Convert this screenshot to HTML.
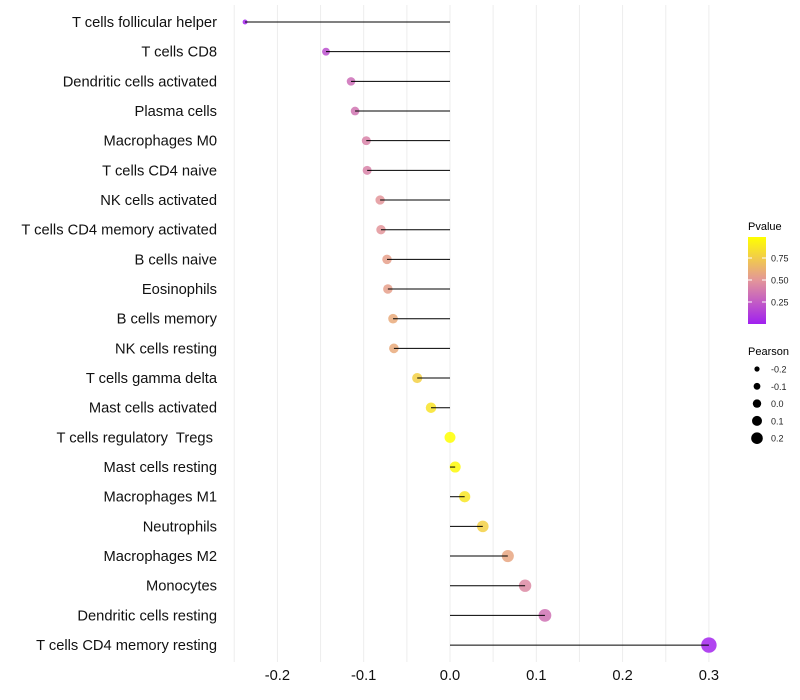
<!DOCTYPE html>
<html><head><meta charset="utf-8"><style>
body{margin:0;background:#fff;font-family:"Liberation Sans",sans-serif}
svg{display:block}
text{white-space:pre}
</style></head><body>
<svg id="chart" width="800" height="700">
<g id="grid"></g><g id="marks"></g><g id="ylabels"></g><g id="xlabels"></g><g id="legend"></g>
</svg>
<script>
const categories=["T cells follicular helper","T cells CD8","Dendritic cells activated","Plasma cells","Macrophages M0","T cells CD4 naive","NK cells activated","T cells CD4 memory activated","B cells naive","Eosinophils","B cells memory","NK cells resting","T cells gamma delta","Mast cells activated","T cells regulatory  Tregs ","Mast cells resting","Macrophages M1","Neutrophils","Macrophages M2","Monocytes","Dendritic cells resting","T cells CD4 memory resting"];
const pearson=[-0.2375,-0.1437,-0.1147,-0.110,-0.097,-0.096,-0.081,-0.080,-0.073,-0.072,-0.066,-0.065,-0.038,-0.022,0.0,0.006,0.017,0.038,0.067,0.087,0.110,0.300];
const pvalue=[0.02,0.2,0.33,0.36,0.42,0.42,0.5,0.5,0.55,0.55,0.6,0.6,0.78,0.87,1.0,0.97,0.88,0.78,0.58,0.45,0.35,0.02];
const xTicks=[-0.2,-0.1,0.0,0.1,0.2,0.3];
const xTickLabels=["-0.2","-0.1","0.0","0.1","0.2","0.3"];
const pTicks=[0.25,0.5,0.75];
const pTickLabels=["0.25","0.50","0.75"];
const sizeTicks=[-0.2,-0.1,0.0,0.1,0.2];
const sizeTickLabels=["-0.2","-0.1","0.0","0.1","0.2"];

const NS="http://www.w3.org/2000/svg";
const x=v=>450+v*863;
const y=i=>22+i*29.67;
const rad=v=>Math.sqrt(Math.max(4,6+100*(v+0.2375)));
function lerp(a,b,t){return a.map((c,i)=>Math.round(c+(b[i]-c)*t));}
function col(p){const s=[[160,32,240],[227,149,154],[255,255,0]];
 const c=p<0.5?lerp(s[0],s[1],p/0.5):lerp(s[1],s[2],(p-0.5)/0.5);return `rgb(${c})`;}
function mk(tag,attrs,parent){const e=document.createElementNS(NS,tag);for(const k in attrs)e.setAttribute(k,attrs[k]);parent.appendChild(e);return e;}
const grid=document.getElementById('grid'),marks=document.getElementById('marks'),yl=document.getElementById('ylabels'),xl=document.getElementById('xlabels'),lg=document.getElementById('legend');
for(let v=-0.25;v<=0.301;v+=0.05){const l=mk('line',{x1:x(v),x2:x(v),y1:5,y2:662,stroke:'#ededed','stroke-width':1},grid);

}
categories.forEach((c,i)=>{
 const yy=y(i);
 const d=mk('circle',{cx:x(pearson[i]),cy:yy,r:rad(pearson[i]),fill:col(pvalue[i]),'fill-opacity':0.85},marks);
 
 
 const s=mk('line',{x1:x(0),x2:x(pearson[i]),y1:yy,y2:yy,stroke:'#000','stroke-width':1},marks);
 
 
 const t=mk('text',{x:217,y:yy+5,'text-anchor':'end','font-size':14.7,fill:'#111'},yl);t.textContent=c;
 
 
});
xTicks.forEach((v,i)=>{const t=mk('text',{x:x(v),y:680,'text-anchor':'middle','font-size':14.7,fill:'#111'},xl);t.textContent=xTickLabels[i];
 
 });
// legend
let t=mk('text',{x:748,y:230,'font-size':11,fill:'#000'},lg);t.textContent='Pvalue';


const defs=mk('defs',{},lg);const g=mk('linearGradient',{id:'pg',x1:0,y1:1,x2:0,y2:0},defs);
[0,0.25,0.5,0.75,1].forEach(o=>mk('stop',{offset:o,'stop-color':col(o)},g));
const bar=mk('rect',{x:748,y:237,width:18,height:87,fill:'url(#pg)'},lg);


const py=p=>324-p*88;
pTicks.forEach((p,i)=>{mk('line',{x1:748,x2:752,y1:py(p),y2:py(p),stroke:'#fff'},lg);mk('line',{x1:762,x2:766,y1:py(p),y2:py(p),stroke:'#fff'},lg);
 const tt=mk('text',{x:771,y:py(p)+3.5,'font-size':9,fill:'#222'},lg);tt.textContent=pTickLabels[i];
 
 });
t=mk('text',{x:748,y:355,'font-size':11,fill:'#000'},lg);t.textContent='Pearson';


sizeTicks.forEach((v,i)=>{const yy=369+i*17.3;
 const c=mk('circle',{cx:757,cy:yy,r:2.6+i*0.8,fill:'#000'},lg);
 
 
 const tt=mk('text',{x:771,y:yy+3.5,'font-size':9,fill:'#222'},lg);tt.textContent=sizeTickLabels[i];
 
 });
</script>
</body></html>
